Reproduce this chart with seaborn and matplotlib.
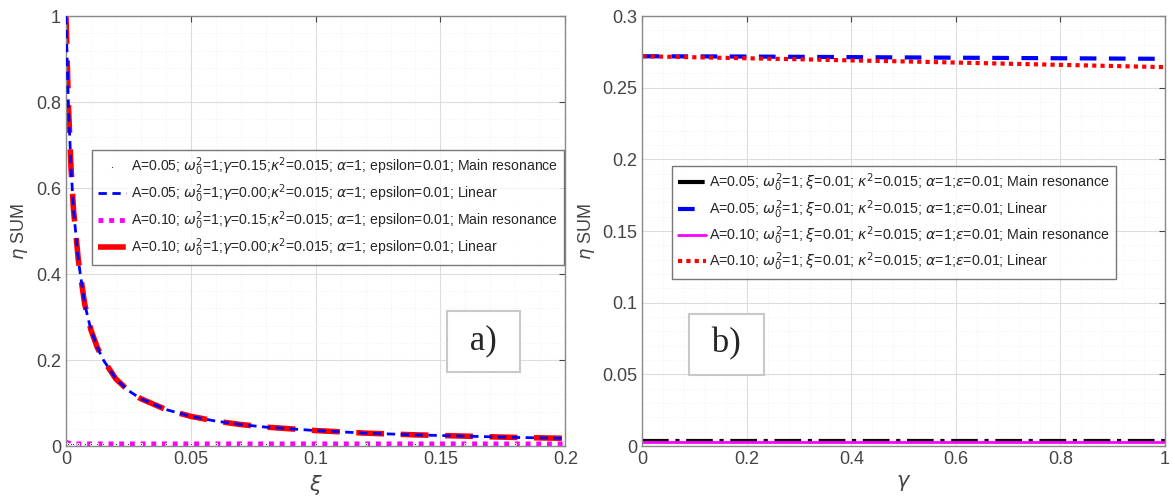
import numpy as np
import pandas as pd
import seaborn as sns
import matplotlib.pyplot as plt
from matplotlib.ticker import AutoMinorLocator, MultipleLocator

# panel a) : eta SUM versus xi
xi = [0, 0.001, 0.002, 0.003, 0.005, 0.0075, 0.01, 0.0125, 0.015, 0.02, 0.025, 0.03,
      0.04, 0.05, 0.06, 0.07, 0.08, 0.1, 0.12, 0.14, 0.16, 0.18, 0.2]
eta_lin_a = [1.0, 0.79, 0.65, 0.55, 0.43, 0.33, 0.27, 0.23, 0.20, 0.156, 0.129, 0.11,
             0.085, 0.069, 0.058, 0.050, 0.044, 0.036, 0.030, 0.026, 0.023, 0.020, 0.018]
eta_main_a = [0.006, 0.005, 0.004, 0.004, 0.004, 0.004, 0.004, 0.004, 0.004, 0.004, 0.004, 0.004,
              0.004, 0.004, 0.004, 0.004, 0.004, 0.004, 0.004, 0.004, 0.004, 0.004, 0.004]
eta_main_a2 = [0.009, 0.007, 0.006, 0.005, 0.005, 0.005, 0.005, 0.005, 0.005, 0.005, 0.005, 0.005,
               0.005, 0.005, 0.005, 0.005, 0.005, 0.005, 0.005, 0.005, 0.005, 0.005, 0.005]

# panel b) : eta SUM versus gamma
gam = [0, 0.1, 0.2, 0.3, 0.4, 0.5, 0.6, 0.7, 0.8, 0.9, 1.0]
eta_lin_b1 = [0.272, 0.2719, 0.2718, 0.2716, 0.2714, 0.2712, 0.2710, 0.2708, 0.2706, 0.2704, 0.2702]
eta_lin_b2 = [0.272, 0.2713, 0.2706, 0.2699, 0.2691, 0.2684, 0.2676, 0.2668, 0.2660, 0.2652, 0.2644]
eta_main_b1 = [0.0035] * 11
eta_main_b2 = [0.003] * 11

labels_a = [
    r'A=0.05; $\omega_0^2$=1;$\gamma$=0.15;$\kappa^2$=0.015; $\alpha$=1; epsilon=0.01; Main resonance',
    r'A=0.05; $\omega_0^2$=1;$\gamma$=0.00;$\kappa^2$=0.015; $\alpha$=1; epsilon=0.01; Linear',
    r'A=0.10; $\omega_0^2$=1;$\gamma$=0.15;$\kappa^2$=0.015; $\alpha$=1; epsilon=0.01; Main resonance',
    r'A=0.10; $\omega_0^2$=1;$\gamma$=0.00;$\kappa^2$=0.015; $\alpha$=1; epsilon=0.01; Linear',
]
labels_b = [
    r'A=0.05; $\omega_0^2$=1; $\xi$=0.01; $\kappa^2$=0.015; $\alpha$=1;$\epsilon$=0.01; Main resonance',
    r'A=0.05; $\omega_0^2$=1; $\xi$=0.01; $\kappa^2$=0.015; $\alpha$=1;$\epsilon$=0.01; Linear',
    r'A=0.10; $\omega_0^2$=1; $\xi$=0.01; $\kappa^2$=0.015; $\alpha$=1;$\epsilon$=0.01; Main resonance',
    r'A=0.10; $\omega_0^2$=1; $\xi$=0.01; $\kappa^2$=0.015; $\alpha$=1;$\epsilon$=0.01; Linear',
]

sns.set_style('white')
plt.rcParams['font.family'] = ['Liberation Sans', 'DejaVu Sans']

fig = plt.figure(figsize=(11.72, 5.04), dpi=100)
ax1 = fig.add_axes([0.0563, 0.115, 0.426, 0.853])
ax2 = fig.add_axes([0.548, 0.115, 0.446, 0.853])

dfa = pd.DataFrame({'xi': xi, 'l': eta_lin_a, 'm1': eta_main_a, 'm2': eta_main_a2})
sns.lineplot(data=dfa, x='xi', y='m1', ax=ax1, color='black', linestyle='none',
             marker='.', markersize=3, label=labels_a[0])
sns.lineplot(data=dfa, x='xi', y='l', ax=ax1, color='blue', linestyle=(0, (3, 2)),
             linewidth=2, label=labels_a[1])
sns.lineplot(data=dfa, x='xi', y='m2', ax=ax1, color='magenta', linestyle=(0, (1, 1.2)),
             linewidth=3.5, label=labels_a[2])
sns.lineplot(data=dfa, x='xi', y='l', ax=ax1, color='red', linestyle=(0, (5, 3)),
             linewidth=4, label=labels_a[3])
ax1.lines[2].set_zorder(1.5)
ax1.lines[1].set_zorder(3)

dfb = pd.DataFrame({'g': gam, 'l1': eta_lin_b1, 'l2': eta_lin_b2, 'm1': eta_main_b1, 'm2': eta_main_b2})
sns.lineplot(data=dfb, x='g', y='m1', ax=ax2, color='black', linestyle='-.',
             linewidth=3, label=labels_b[0])
sns.lineplot(data=dfb, x='g', y='l1', ax=ax2, color='blue', linestyle=(0, (4, 3)),
             linewidth=3, label=labels_b[1])
sns.lineplot(data=dfb, x='g', y='m2', ax=ax2, color='magenta', linestyle='-',
             linewidth=2, label=labels_b[2])
sns.lineplot(data=dfb, x='g', y='l2', ax=ax2, color='red', linestyle=(0, (1, 1)),
             linewidth=3, label=labels_b[3])

def style(ax, xlim, ylim, xstep, ystep, xlabel):
    ax.set_xlim(*xlim)
    ax.set_ylim(*ylim)
    ax.xaxis.set_major_locator(MultipleLocator(xstep))
    ax.yaxis.set_major_locator(MultipleLocator(ystep))
    ax.xaxis.set_minor_locator(AutoMinorLocator(5))
    ax.yaxis.set_minor_locator(AutoMinorLocator(5))
    ax.grid(which='major', color='#dcdcdc', linewidth=0.8)
    ax.grid(which='minor', color='#eeeeee', linewidth=0.6, linestyle=':')
    ax.set_axisbelow(True)
    for s in ax.spines.values():
        s.set_color('#888888')
        s.set_linewidth(1)
    ax.tick_params(which='major', direction='in', length=4, labelsize=13,
                   colors='#444444', top=True, right=True)
    ax.tick_params(which='minor', length=0)
    ax.set_xlabel(xlabel, fontsize=15, color='#444444')
    ax.set_ylabel(r'$\eta$ SUM', fontsize=13, color='#444444')

style(ax1, (0, 0.2), (0, 1), 0.05, 0.2, r'$\xi$')
style(ax2, (0, 1), (0, 0.3), 0.2, 0.05, r'$\gamma$')
ax1.set_xticks([0, 0.05, 0.1, 0.15, 0.2], ['0', '0.05', '0.1', '0.15', '0.2'])
ax1.set_yticks([0, 0.2, 0.4, 0.6, 0.8, 1], ['0', '0.2', '0.4', '0.6', '0.8', '1'])
ax2.set_xticks([0, 0.2, 0.4, 0.6, 0.8, 1], ['0', '0.2', '0.4', '0.6', '0.8', '1'])
ax2.set_yticks([0, 0.05, 0.1, 0.15, 0.2, 0.25, 0.3],
               ['0', '0.05', '0.1', '0.15', '0.2', '0.25', '0.3'])

leg1 = ax1.legend(loc='upper left', bbox_to_anchor=(0.052, 0.688), fontsize=10.1,
                  frameon=True, fancybox=False, edgecolor='#555555', handlelength=2,
                  handletextpad=0.4, borderaxespad=0, borderpad=0.4, labelspacing=0.3)
leg1.get_frame().set_linewidth(1)
leg2 = ax2.legend(loc='upper left', bbox_to_anchor=(0.057, 0.651), fontsize=10.3,
                  frameon=True, fancybox=False, edgecolor='#555555', handlelength=2,
                  handletextpad=0.2, borderaxespad=0, borderpad=0.4, labelspacing=0.25)
leg2.get_frame().set_linewidth(1)

box = dict(boxstyle='square,pad=0.4', facecolor='white', edgecolor='#c8c8c8', linewidth=1.5)
ax1.text(0.836, 0.244, ' a) ', transform=ax1.transAxes, fontsize=25, family='Liberation Serif',
         ha='center', va='center', bbox=box)
ax2.text(0.161, 0.237, ' b) ', transform=ax2.transAxes, fontsize=25, family='Liberation Serif',
         ha='center', va='center', bbox=box)

fig.savefig('out.png', dpi=100)
